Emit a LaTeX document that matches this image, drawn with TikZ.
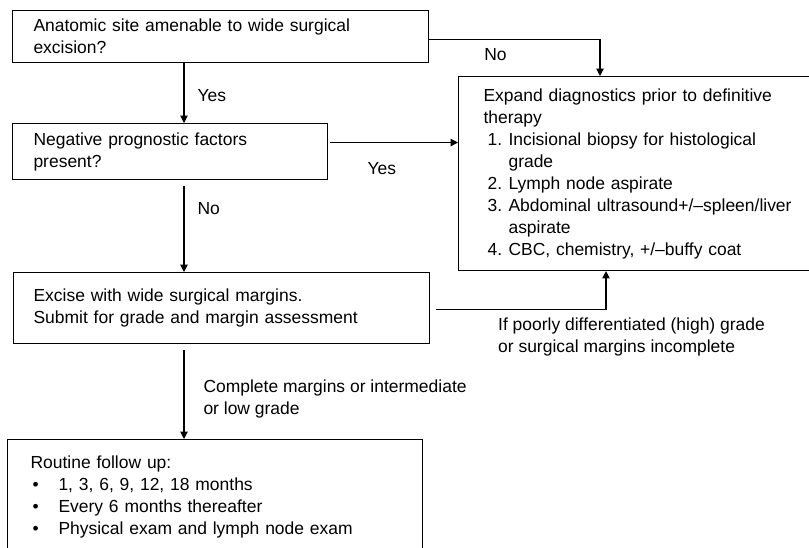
\documentclass[tikz,border=0pt]{standalone}
\usepackage{fontspec}
\setmainfont{Liberation Sans}
\usepackage{tikz}
\usetikzlibrary{positioning,arrows.meta}

% numbered and bulleted lines inside the boxes
\newcommand{\dxitem}[1]{\hspace*{3pt}\makebox[15.75pt][l]{#1}}
\newcommand{\dxcont}{\hspace*{18.75pt}}
\newcommand{\fuitem}{\hspace*{1.5pt}\makebox[19.5pt][l]{\textbullet}}

\begin{document}
\begin{tikzpicture}[x=0.75pt,y=-0.75pt,
  every node/.style={font=\fontsize{13.1pt}{16.5pt}\selectfont},
  box/.style={draw,line width=0.8pt,anchor=north west,align=left,
    inner xsep=15.75pt,inner ysep=1pt},
  flow/.style={line width=0.8pt,-{Triangle[length=5.5pt,width=5.5pt]}},
  lbl/.style={inner sep=0pt,align=left}]
  \useasboundingbox (0,0) rectangle (809,548);
  \clip (0,0) rectangle (809,548);
  % columns of the connectors
  \coordinate (spine) at (184,0);
  \coordinate (nocol) at (600,0);
  \coordinate (upcol) at (606,0);
  % site
  \node[box,text width=280.5pt,minimum height=39pt] (site) at (12,10)
    {Anatomic site amenable to wide surgical\\excision?};
  % prognostic factors
  \node[box,text width=204.75pt,minimum height=42pt] (prognostic) at (12,123)
    {Negative prognostic factors\\present?};
  % diagnostics
  \node[box,inner xsep=18.75pt,text width=277.5pt,minimum height=145.5pt] (diagnostics) at (458,76)
    {Expand diagnostics prior to definitive\\
     therapy\\
     \dxitem{1.}Incisional biopsy for histological\\
     \dxcont grade\\
     \dxitem{2.}Lymph node aspirate\\
     \dxitem{3.}Abdominal ultrasound+/–spleen/liver\\
     \dxcont aspirate\\
     \dxitem{4.}CBC, chemistry, +/–buffy coat};
  % excision
  \node[box,inner xsep=15pt,text width=282pt,minimum height=53.25pt] (excise) at (13,272)
    {Excise with wide surgical margins.\\Submit for grade and margin assessment};
  % follow up
  \node[box,inner xsep=17.25pt,text width=276.75pt,minimum height=86.25pt] (followup) at (7,439)
    {Routine follow up:\\
     \fuitem 1, 3, 6, 9, 12, 18 months\\
     \fuitem Every 6 months thereafter\\
     \fuitem Physical exam and lymph node exam};
  % site -> prognostic
  \draw[flow] (site.south -| spine) -- node[lbl,right=9.75pt,pos=0.54]{Yes} (prognostic.north -| spine);
  % site -> diagnostics
  \draw[flow] ([yshift=-2.25pt]site.east) -| node[lbl,anchor=north west,pos=0.16,yshift=-6pt]{No} (diagnostics.north -| nocol);
  % prognostic -> diagnostics
  \coordinate (yesout) at ([yshift=6.75pt]prognostic.east);
  \draw[flow,shorten <=1.5pt] (yesout) -- node[lbl,anchor=north west,pos=0.3,yshift=-14.25pt]{Yes} (yesout -| diagnostics.west);
  % prognostic -> excise
  \draw[flow,shorten <=4.5pt] (prognostic.south -| spine) -- node[lbl,right=9.75pt,pos=0.31]{No} (excise.north -| spine);
  % excise -> diagnostics
  \draw[flow,shorten <=4.5pt] ([yshift=-1.1pt]excise.east) -| node[lbl,anchor=north west,pos=0.192,yshift=-5.8pt]
    {If poorly differentiated (high) grade\\or surgical margins incomplete} (diagnostics.south -| upcol);
  % excise -> follow up
  \draw[flow,shorten <=4.5pt] (excise.south -| spine) -- node[lbl,right=14.25pt,pos=0.58]
    {Complete margins or intermediate\\or low grade} (followup.north -| spine);
\end{tikzpicture}
\end{document}
